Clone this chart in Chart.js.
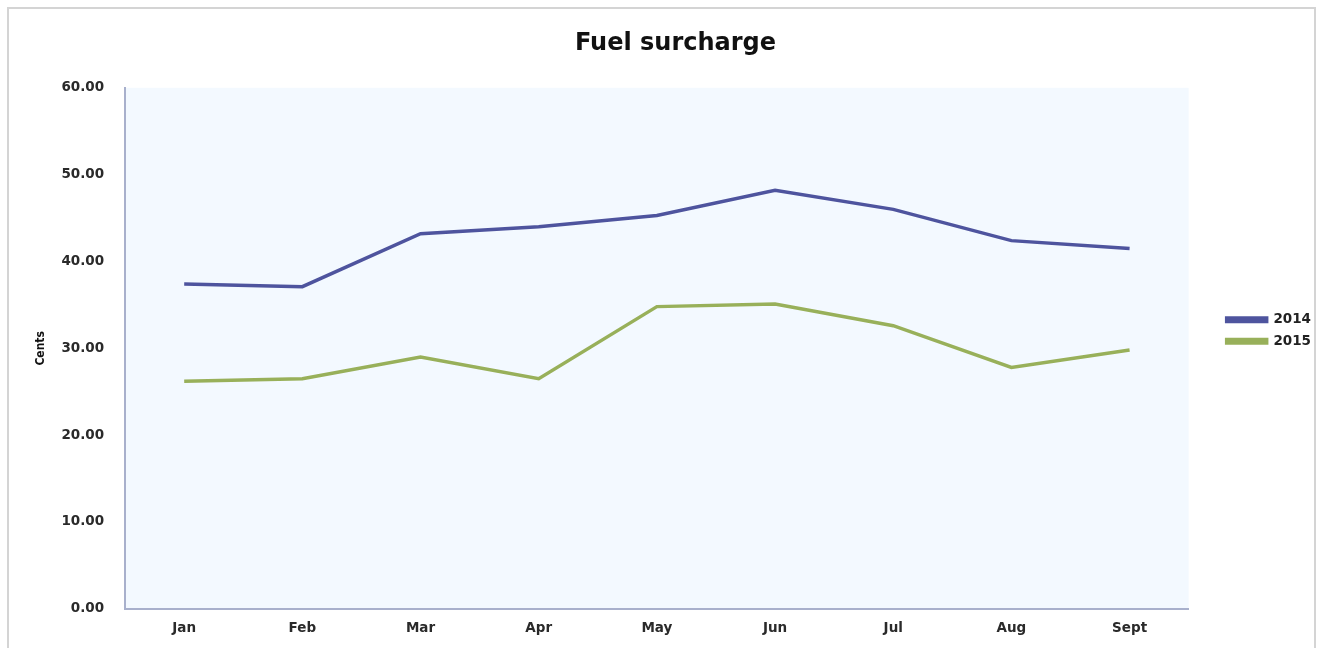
<!DOCTYPE html>
<html lang="en">
<head>
    <meta charset="UTF-8">
    <title>Fuel surcharge</title>
    <script src="https://cdn.jsdelivr.net/npm/chart.js"></script>
    <style>
        html, body {
            margin: 0;
            padding: 0;
            background: #fff;
        }
        .chart-box {
            width: 1323px;
            height: 648px;
            position: relative;
        }
    </style>
</head>
<body>
    <div class="chart-box">
        <canvas id="myChart"></canvas>
    </div>
    <script>
        const months = ['Jan', 'Feb', 'Mar', 'Apr', 'May', 'Jun', 'Jul', 'Aug', 'Sept'];
        const cents2014 = [37.4, 37.1, 43.2, 44.0, 45.3, 48.2, 46.0, 42.4, 41.5];
        const cents2015 = [26.2, 26.5, 29.0, 26.5, 34.8, 35.1, 32.6, 27.8, 29.8];
        const yTicks = [0, 10, 20, 30, 40, 50, 60];

        // frame around the whole chart + pale blue plot area
        const backdrop = {
            id: 'backdrop',
            beforeDraw(chart) {
                const ctx = chart.ctx;
                const a = chart.chartArea;
                ctx.save();
                ctx.strokeStyle = '#d4d4d4';
                ctx.lineWidth = 2;
                ctx.strokeRect(8, 8, chart.width - 16, chart.height + 10);
                ctx.fillStyle = '#f3f9ff';
                ctx.fillRect(a.left, a.top, a.right - a.left, a.bottom - a.top);
                ctx.restore();
            }
        };

        const tickFont = { family: 'DejaVu Sans', size: 13.5, weight: 'bold' };

        new Chart(document.getElementById('myChart'), {
            type: 'line',
            data: {
                labels: months,
                datasets: [{
                    label: '2014',
                    data: cents2014,
                    borderColor: '#4e549e',
                    backgroundColor: '#4e549e',
                    borderWidth: 3.5,
                    pointRadius: 0,
                    tension: 0
                }, {
                    label: '2015',
                    data: cents2015,
                    borderColor: '#98b05a',
                    backgroundColor: '#98b05a',
                    borderWidth: 3.5,
                    pointRadius: 0,
                    tension: 0
                }]
            },
            options: {
                responsive: true,
                maintainAspectRatio: false,
                animation: false,
                layout: {
                    padding: { left: 30, right: 2, top: 20, bottom: 7 }
                },
                plugins: {
                    title: {
                        display: true,
                        text: 'Fuel surcharge',
                        color: '#111',
                        font: { family: 'DejaVu Sans', size: 24, weight: 'bold' },
                        padding: { top: 9, bottom: 30 }
                    },
                    legend: {
                        position: 'right',
                        labels: {
                            boxWidth: 40,
                            boxHeight: 3.5,
                            padding: 8,
                            color: '#222',
                            font: { family: 'DejaVu Sans', size: 13.5, weight: 'bold' }
                        }
                    },
                    tooltip: { enabled: false }
                },
                scales: {
                    x: {
                        offset: true,
                        grid: { display: false },
                        border: { color: '#a8b0cc', width: 2 },
                        ticks: {
                            color: '#2a2a2a',
                            padding: 4,
                            font: tickFont
                        }
                    },
                    y: {
                        min: 0,
                        max: 60,
                        afterBuildTicks(scale) {
                            scale.ticks = yTicks.map(v => ({ value: v }));
                        },
                        grid: { display: false },
                        border: { color: '#a8b0cc', width: 2 },
                        title: {
                            display: true,
                            text: 'Cents',
                            color: '#111',
                            padding: { top: 4, bottom: 0 },
                            font: { family: 'DejaVu Sans Condensed', size: 12, weight: 'bold' }
                        },
                        ticks: {
                            color: '#2a2a2a',
                            padding: 13,
                            callback: v => v.toFixed(2),
                            font: tickFont
                        }
                    },
                    // empty axis, only keeps a gap between plot and legend
                    gap: {
                        type: 'linear',
                        position: 'right',
                        display: true,
                        ticks: { display: false },
                        grid: { display: false },
                        border: { display: false },
                        afterFit(scale) {
                            scale.width = 30;
                        }
                    }
                }
            },
            plugins: [backdrop]
        });
    </script>
</body>
</html>
